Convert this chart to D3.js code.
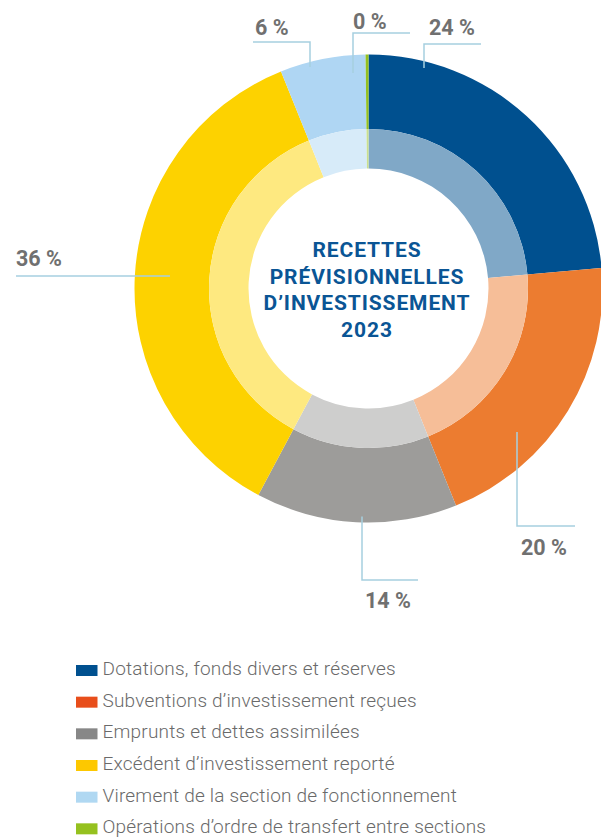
<!DOCTYPE html>
<html>
<head>
<meta charset="utf-8">
<script src="https://cdn.jsdelivr.net/npm/d3@7"></script>
<style>
  body { margin: 0; background: #fff; }
  svg { display: block; }
</style>
</head>
<body>
<div id="chart"></div>
<script>
// chart values
const categories = [
	"Dotations, fonds divers et réserves",
	"Subventions d’investissement reçues",
	"Emprunts et dettes assimilées",
	"Excédent d’investissement reporté",
	"Virement de la section de fonctionnement",
	"Opérations d’ordre de transfert entre sections"
]
const shares = [23.6, 20.3, 13.9, 36.1, 5.9, 0.2]
const shareLabels = ["24 %", "20 %", "14 %", "36 %", "6 %", "0 %"]
const titleLines = ["RECETTES", "PRÉVISIONNELLES", "D’INVESTISSEMENT", "2023"]

// colours
const ringColors = ["#00508f", "#ec7c30", "#9d9c9a", "#fdd200", "#afd6f3", "#95c11f"]
const legendColors = ["#00508f", "#e84e1b", "#878787", "#fdc800", "#b0d8f2", "#95c11f"]

const svgWidth = 601
const svgHeight = 837
const cx = 368.5
const cy = 288.5

// leader lines, relative to chart centre, one per slice
const leaders = [
	{ pts: [[55.5, -220.5], [55.5, -244.5], [112.5, -244.5]], tx: 60.5, ty: -253.5 },
	{ pts: [[148.5, 143.5], [148.5, 237.5], [206.5, 237.5]], tx: 152.5, ty: 266.5 },
	{ pts: [[-6.5, 228], [-6.5, 291.5], [49.5, 291.5]], tx: -3.5, ty: 319.5 },
	{ pts: [[-198.5, -12.5], [-352.5, -12.5]], tx: -352.5, ty: -22.5 },
	{ pts: [[-58.5, -221.5], [-58.5, -246.5], [-115.5, -246.5]], tx: -113.5, ty: -253.5 },
	{ pts: [[-15.5, -215.5], [-15.5, -255.5], [41.5, -255.5]], tx: -15.5, ty: -259.5 }
]

let svg = d3
	.select("#chart")
	.append("svg")
	.attr("width", svgWidth)
	.attr("height", svgHeight)

let chartGroup = svg
	.append("g")
	.attr("transform", `translate(${cx}, ${cy})`)

let pie = d3.pie().sort(null).value(d => d)
let slices = pie(shares)

let outerArc = d3.arc().innerRadius(159.5).outerRadius(234)
let innerArc = d3.arc().innerRadius(120).outerRadius(159.5)

// outer ring
chartGroup
	.selectAll(".outer")
	.data(slices)
	.enter()
	.append("path")
	.classed("outer", true)
	.attr("d", outerArc)
	.attr("fill", (d, i) => ringColors[i])

// inner lighter ring
chartGroup
	.selectAll(".inner")
	.data(slices)
	.enter()
	.append("path")
	.classed("inner", true)
	.attr("d", innerArc)
	.attr("fill", (d, i) => d3.interpolateRgb(ringColors[i], "#fff")(0.5))

// leader lines
let line = d3.line()
chartGroup
	.selectAll(".leader")
	.data(leaders)
	.enter()
	.append("path")
	.classed("leader", true)
	.attr("d", d => line(d.pts))
	.attr("fill", "none")
	.attr("stroke", "#a6cfe0")
	.attr("stroke-width", 1.5)

// percentage labels
chartGroup
	.selectAll(".pct")
	.data(leaders)
	.enter()
	.append("text")
	.classed("pct", true)
	.attr("x", d => d.tx)
	.attr("y", d => d.ty)
	.attr("font-family", "Roboto, sans-serif")
	.attr("font-weight", "bold")
	.attr("font-size", 21.5)
	.attr("fill", "#707070")
	.text((d, i) => shareLabels[i])

// centre title
chartGroup
	.selectAll(".title")
	.data(titleLines)
	.enter()
	.append("text")
	.classed("title", true)
	.attr("x", -1.5)
	.attr("y", (d, i) => -31.5 + i * 26.5)
	.attr("text-anchor", "middle")
	.attr("font-family", "Roboto, sans-serif")
	.attr("font-weight", "bold")
	.attr("font-size", 21)
	.attr("letter-spacing", 0.9)
	.attr("fill", "#0a5595")
	.text(d => d)

// legend
let legendY = d3.scaleBand()
	.domain(d3.range(categories.length))
	.range([653, 843])

let legend = svg
	.selectAll(".legend")
	.data(categories)
	.enter()
	.append("g")
	.classed("legend", true)
	.attr("transform", (d, i) => `translate(76, ${legendY(i)})`)

legend.append("rect")
	.attr("x", 0)
	.attr("y", 12)
	.attr("width", 21.5)
	.attr("height", 11)
	.attr("fill", (d, i) => legendColors[i])

legend.append("text")
	.attr("x", 26.5)
	.attr("y", 22)
	.attr("font-family", "Roboto, sans-serif")
	.attr("font-size", 19)
	.attr("font-weight", 300)
	.attr("letter-spacing", 0.2)
	.attr("fill", "#6a6a6a")
	.text(d => d)
</script>
</body>
</html>
